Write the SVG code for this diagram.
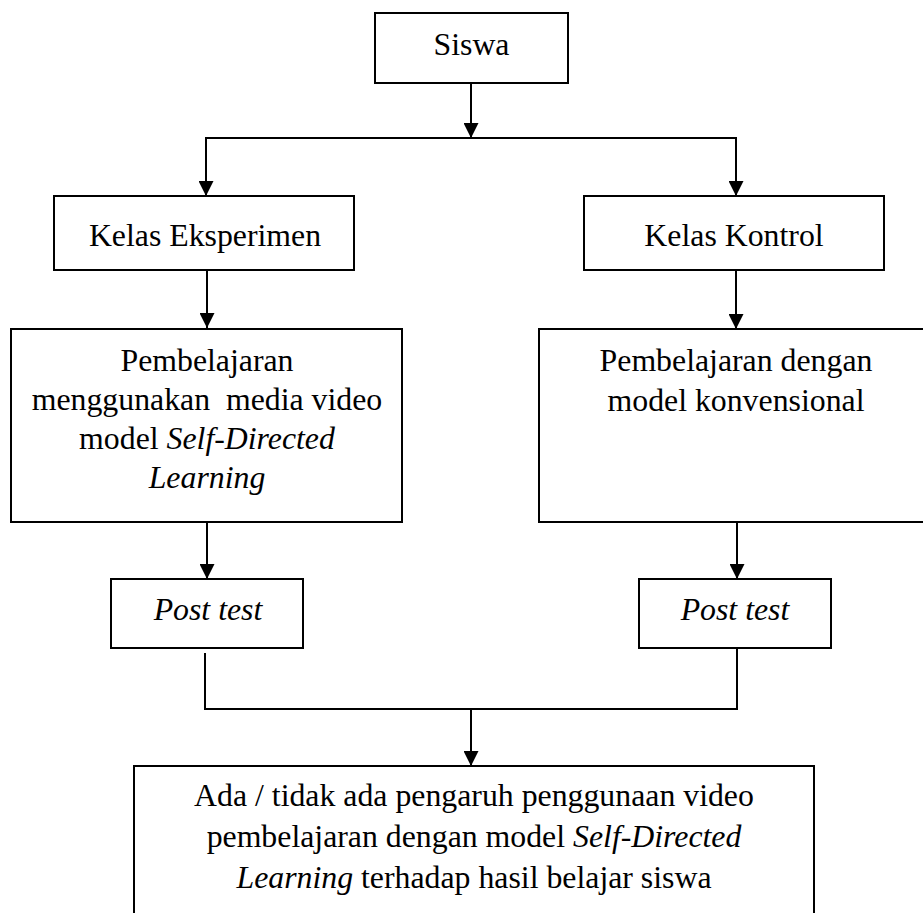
<svg xmlns="http://www.w3.org/2000/svg" width="923" height="913" viewBox="0 0 923 913">
<style>
.box{fill:#fff;stroke:#000;stroke-width:2}
.ln{fill:none;stroke:#000;stroke-width:2}
text{font-family:"Liberation Serif","Times New Roman",serif;font-size:31.8px;fill:#000;text-anchor:middle;white-space:pre}
.it{font-style:italic}
</style>
<defs>
<marker id="ah" markerUnits="userSpaceOnUse" markerWidth="15" markerHeight="15" viewBox="0 0 15 15" refX="15" refY="7.5" orient="auto">
<path d="M0,0 L15,7.5 L0,15 z" fill="#000"/>
</marker>
</defs>
<rect width="923" height="913" fill="#fff"/>
<g id="connectors">
<path class="ln" d="M471,83 V138" marker-end="url(#ah)"/>
<path class="ln" d="M205,138 H737"/>
<path class="ln" d="M206,138 V196" marker-end="url(#ah)"/>
<path class="ln" d="M736,138 V196" marker-end="url(#ah)"/>
<path class="ln" d="M207,270 V328" marker-end="url(#ah)"/>
<path class="ln" d="M736,270 V329" marker-end="url(#ah)"/>
<path class="ln" d="M207,522 V579" marker-end="url(#ah)"/>
<path class="ln" d="M737,522 V579" marker-end="url(#ah)"/>
<path class="ln" d="M205,653 V709 H737 V648"/>
<path class="ln" d="M471,709 V766" marker-end="url(#ah)"/>
</g>
<g id="siswa">
<rect class="box" x="375" y="13" width="193" height="70"/>
<text x="471.5" y="55">Siswa</text>
</g>
<g id="kelas-eksperimen">
<rect class="box" x="54" y="196" width="300" height="74"/>
<text x="205" y="246">Kelas Eksperimen</text>
</g>
<g id="kelas-kontrol">
<rect class="box" x="584" y="196" width="300" height="74"/>
<text x="734" y="246">Kelas Kontrol</text>
</g>
<g id="pembelajaran-eksperimen">
<rect class="box" x="11" y="329" width="391" height="193"/>
<text x="207" y="371">Pembelajaran</text>
<text x="207" y="410">menggunakan  media video</text>
<text x="207" y="449">model <tspan class="it">Self-Directed</tspan></text>
<text x="207" y="488" class="it">Learning</text>
</g>
<g id="pembelajaran-kontrol">
<rect class="box" x="539" y="329" width="394" height="193"/>
<text x="736" y="371">Pembelajaran dengan</text>
<text x="736" y="411">model konvensional</text>
</g>
<g id="posttest-eksperimen">
<rect class="box" x="111" y="579" width="192" height="69"/>
<text x="208" y="620" class="it">Post test</text>
</g>
<g id="posttest-kontrol">
<rect class="box" x="639" y="579" width="192" height="69"/>
<text x="735" y="620" class="it">Post test</text>
</g>
<g id="hasil">
<rect class="box" x="134" y="766" width="680" height="170"/>
<text x="474" y="806">Ada / tidak ada pengaruh penggunaan video</text>
<text x="474" y="847">pembelajaran dengan model <tspan class="it">Self-Directed</tspan></text>
<text x="474" y="888"><tspan class="it">Learning</tspan> terhadap hasil belajar siswa</text>
</g>
</svg>
